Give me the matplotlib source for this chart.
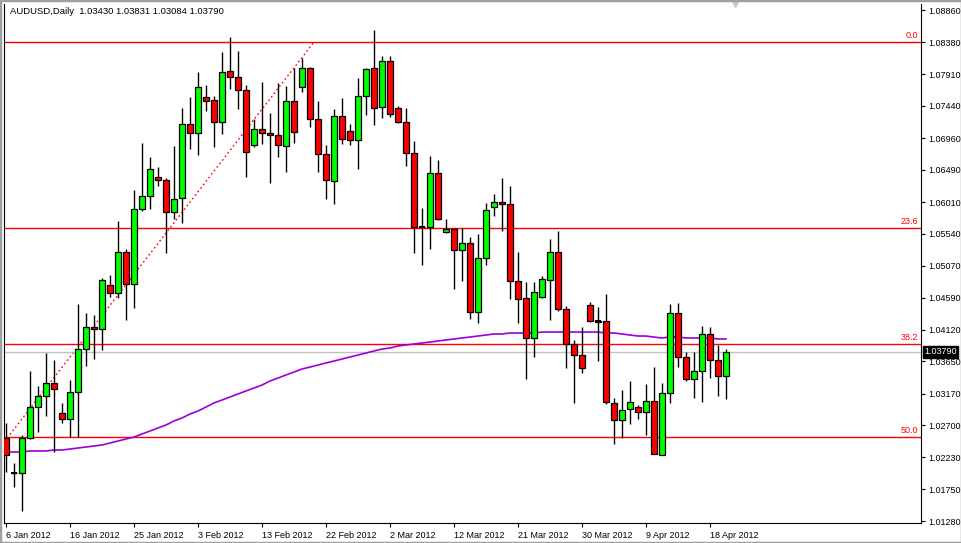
import matplotlib
matplotlib.use('Agg')
import matplotlib.pyplot as plt
from matplotlib.patches import Rectangle
import numpy as np
import pandas as pd

# AUDUSD daily bars (broker calendar has Sunday bars)
dates = pd.bdate_range('2012-01-06', periods=91, freq='C', weekmask='Sun Mon Tue Wed Thu Fri')

opens = [1.02512, 1.01993, 1.01993, 1.02512, 1.02972, 1.03135, 1.03328, 1.02883, 1.02794, 1.03195,
         1.03832, 1.04159, 1.04129, 1.04781, 1.04663, 1.05271, 1.04796, 1.05909, 1.06101, 1.06383,
         1.06339, 1.05864, 1.06072, 1.07169, 1.07036, 1.07570, 1.07525, 1.07199, 1.07955, 1.07866,
         1.07673, 1.06858, 1.07095, 1.07036, 1.07006, 1.06843, 1.07510, 1.07718, 1.08000, 1.07243,
         1.06724, 1.06324, 1.07288, 1.07065, 1.06932, 1.07584, 1.08000, 1.07421, 1.08103, 1.07406,
         1.07199, 1.06739, 1.05642, 1.05642, 1.06442, 1.05567, 1.05612, 1.05301, 1.05404, 1.04381,
         1.05182, 1.05938, 1.06012, 1.05983, 1.04841, 1.04589, 1.03996, 1.04604, 1.04856, 1.05271,
         1.04426, 1.03907, 1.03743, 1.04485, 1.04248, 1.04248, 1.03032, 1.02779, 1.02943, 1.02972,
         1.02898, 1.03061, 1.02260, 1.03180, 1.04366, 1.03714, 1.03387, 1.03506, 1.04055, 1.03669,
         1.03430]
highs = [1.02735, 1.02142, 1.02557, 1.03506, 1.03284, 1.03773, 1.03669, 1.03032, 1.03373, 1.04500,
         1.04366, 1.04337, 1.04885, 1.04930, 1.05731, 1.05315, 1.06190, 1.06887, 1.06680, 1.06531,
         1.06368, 1.06843, 1.07406, 1.07570, 1.07940, 1.07747, 1.07584, 1.08237, 1.08459, 1.08252,
         1.07747, 1.07243, 1.07792, 1.07332, 1.07777, 1.07733, 1.08000, 1.08148, 1.08014, 1.07510,
         1.06858, 1.07392, 1.07555, 1.07169, 1.07851, 1.08000, 1.08563, 1.08178, 1.08178, 1.07436,
         1.07406, 1.06917, 1.05923, 1.06695, 1.06635, 1.05760, 1.05620, 1.05627, 1.05493, 1.05538,
         1.05998, 1.06131, 1.06368, 1.06250, 1.05271, 1.04826, 1.04826, 1.04915, 1.05464, 1.05582,
         1.04470, 1.03966, 1.04159, 1.04529, 1.04455, 1.04648, 1.03106, 1.03224, 1.03358, 1.03002,
         1.03313, 1.03565, 1.03328, 1.04500, 1.04515, 1.03788, 1.03788, 1.04173, 1.04159, 1.03892,
         1.03831]
lows = [1.02008, 1.01786, 1.01430, 1.02500, 1.02601, 1.02839, 1.02305, 1.02735, 1.02527, 1.02527,
        1.03580, 1.03684, 1.03818, 1.04604, 1.04589, 1.04262, 1.04440, 1.05879, 1.05909, 1.06250,
        1.05256, 1.05760, 1.05701, 1.06798, 1.06709, 1.07362, 1.06828, 1.07021, 1.07688, 1.07392,
        1.06383, 1.06828, 1.06872, 1.06294, 1.06680, 1.06457, 1.06887, 1.07644, 1.07125, 1.06457,
        1.06057, 1.05983, 1.06872, 1.06858, 1.06502, 1.07303, 1.07154, 1.07258, 1.07273, 1.07184,
        1.06546, 1.05256, 1.05078, 1.05315, 1.05745, 1.05553, 1.04722, 1.04841, 1.04277, 1.04218,
        1.05078, 1.05805, 1.05582, 1.04574, 1.04218, 1.03387, 1.03714, 1.04590, 1.04262, 1.04396,
        1.03551, 1.03032, 1.03476, 1.04240, 1.03654, 1.03017, 1.02424, 1.02512, 1.02720, 1.02794,
        1.02557, 1.02270, 1.02255, 1.03032, 1.03565, 1.03358, 1.03106, 1.03046, 1.03402, 1.03135,
        1.03084]
closes = [1.02260, 1.02000, 1.02512, 1.02972, 1.03135, 1.03328, 1.03239, 1.02794, 1.03195, 1.03832,
          1.04159, 1.04129, 1.04856, 1.04663, 1.05271, 1.04796, 1.05909, 1.06101, 1.06502, 1.06339,
          1.05864, 1.06057, 1.07169, 1.07036, 1.07718, 1.07510, 1.07199, 1.07940, 1.07866, 1.07673,
          1.06754, 1.07095, 1.07036, 1.07006, 1.06858, 1.07510, 1.07050, 1.08000, 1.07243, 1.06724,
          1.06339, 1.07288, 1.06947, 1.06932, 1.07584, 1.07985, 1.07406, 1.08103, 1.07317, 1.07199,
          1.06739, 1.05642, 1.05635, 1.06442, 1.05760, 1.05612, 1.05301, 1.05404, 1.04381, 1.05182,
          1.05894, 1.06012, 1.05983, 1.04841, 1.04574, 1.03996, 1.04678, 1.04870, 1.05271, 1.04426,
          1.03907, 1.03743, 1.03551, 1.04248, 1.04240, 1.03046, 1.02779, 1.02928, 1.03046, 1.02898,
          1.03061, 1.02275, 1.03180, 1.04366, 1.03714, 1.03387, 1.03506, 1.04055, 1.03669, 1.03432,
          1.03790]

# moving average (purple)
ma = [1.02305, 1.02305, 1.02305, 1.02320, 1.02320, 1.02320, 1.02335, 1.02335, 1.02349, 1.02364,
      1.02379, 1.02394, 1.02409, 1.02438, 1.02468, 1.02498, 1.02527, 1.02572, 1.02616, 1.02661,
      1.02705, 1.02765, 1.02809, 1.02868, 1.02913, 1.02972, 1.03032, 1.03076, 1.03121, 1.03165,
      1.03210, 1.03254, 1.03298, 1.03358, 1.03402, 1.03447, 1.03491, 1.03536, 1.03565, 1.03595,
      1.03625, 1.03654, 1.03684, 1.03714, 1.03743, 1.03773, 1.03803, 1.03832, 1.03847, 1.03877,
      1.03892, 1.03907, 1.03921, 1.03936, 1.03951, 1.03966, 1.03981, 1.03996, 1.04010, 1.04025,
      1.04040, 1.04055, 1.04055, 1.04070, 1.04070, 1.04070, 1.04070, 1.04084, 1.04084, 1.04084,
      1.04084, 1.04084, 1.04084, 1.04084, 1.04084, 1.04070, 1.04070, 1.04055, 1.04040, 1.04025,
      1.04025, 1.04010, 1.03996, 1.04010, 1.04010, 1.03996, 1.03996, 1.03996, 1.03996, 1.03981,
      1.03981]

# fibonacci retracement
fib_high = 1.08385
fib_low = 0.96669
fib_high_bar = 38.5
fib_low_bar = -38
fib_levels = [0.0, 23.6, 38.2, 50.0]

price_ticks = [1.08860, 1.08380, 1.07910, 1.07440, 1.06960, 1.06490, 1.06010, 1.05540, 1.05070,
               1.04590, 1.04120, 1.03650, 1.03170, 1.02700, 1.02230, 1.01750, 1.01280]

plt.rcParams['font.family'] = ['Liberation Sans', 'DejaVu Sans']

fig = plt.figure(figsize=(9.62, 5.43), dpi=100)
fig.patch.set_facecolor('white')
ax = fig.add_axes([4/962, 20/543, 917/962, 519/543])

x = np.arange(len(opens))
o = np.array(opens); h = np.array(highs); l = np.array(lows); c = np.array(closes)

# fib level lines
rng = fib_high - fib_low
for lv in fib_levels:
    y = fib_high - rng * lv / 100
    ax.axhline(y, color='#FF0000', lw=1, zorder=1)
    ax.text(114.0, y + 0.0003, '%.1f' % lv, color='#FF0000', fontsize=6.5,
            ha='right', va='bottom')
ax.plot([fib_low_bar, fib_high_bar], [fib_low, fib_high], color='#FF0000', lw=1,
        linestyle=(0, (1.2, 2)), zorder=1)

# current bid line
ax.axhline(closes[-1], color='#C0C0C0', lw=1, zorder=1)

# moving average
ax.plot(x, ma, color='#9A00D8', lw=1.2, zorder=2)

# wicks and bodies
ax.vlines(x, l, h, color='black', lw=1, zorder=3)
up = c >= o
body_col = np.where(up, '#00FF00', '#FF0000')
ax.bar(x, np.abs(c - o), bottom=np.minimum(o, c), width=0.66, color=body_col,
       edgecolor='black', linewidth=0.9, zorder=4)
doji = np.abs(c - o) < 0.0001
ax.hlines(o[doji], x[doji] - 0.35, x[doji] + 0.35, color='black', lw=1.5, zorder=5)

ax.set_xlim(-0.25, 114.375)
ax.set_ylim(1.01252, 1.08949)

# axes look
for s in ['top', 'left']:
    ax.spines[s].set_visible(False)
ax.spines['left'].set_visible(True)
ax.spines['left'].set_color('black')
ax.spines['bottom'].set_color('black')
ax.spines['right'].set_color('black')
ax.yaxis.tick_right()
ax.set_yticks(price_ticks)
ax.set_yticklabels(['%.5f' % p for p in price_ticks])
tick_idx = list(range(0, len(dates), 8))
ax.set_xticks(tick_idx)
ax.set_xticklabels(['%d %s' % (dates[i].day, dates[i].strftime('%b %Y')) for i in tick_idx],
                   ha='left')
ax.tick_params(axis='both', labelsize=6.5, length=3, width=0.8, colors='black', pad=2)
ax.tick_params(axis='x', pad=3)

# current price tag
ax.text(1.0035, (closes[-1] - 1.01252) / (1.08949 - 1.01252), '%.5f' % closes[-1],
        transform=ax.transAxes, color='white', fontsize=6.5, ha='left', va='center',
        bbox=dict(boxstyle='square,pad=0.15', fc='black', ec='black'), zorder=10)

# title
fig.text(10/962, 1 - 12/543, 'AUDUSD,Daily  %.5f %.5f %.5f %.5f' % (opens[-1], highs[-1], lows[-1], closes[-1]),
         fontsize=6.8, color='black', ha='left', va='center')

# chart shift marker
ax.plot([91.1], [1.08949], marker='v', color='#C8C8C8', markersize=5, clip_on=False)

# window frame
fig.patches.append(Rectangle((0, 0), 1, 1, transform=fig.transFigure, fill=False,
                             ec='#A0A0A0', lw=2.5))

fig.savefig('out.png', dpi=100)
